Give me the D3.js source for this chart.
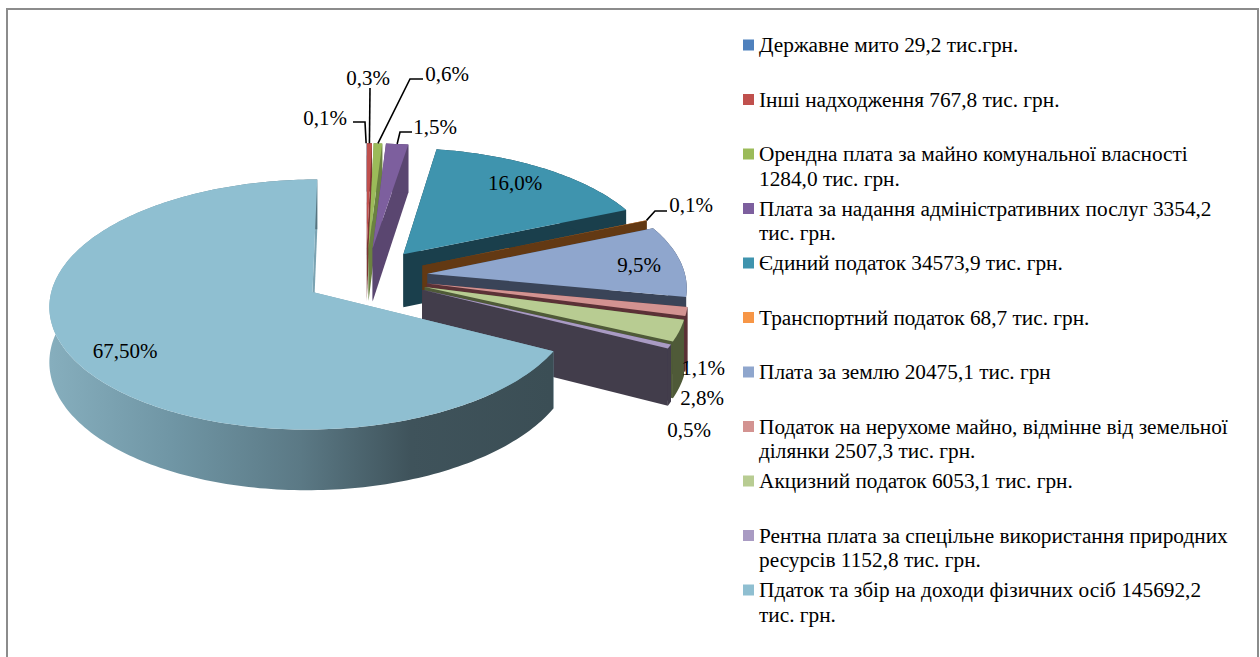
<!DOCTYPE html>
<html>
<head>
<meta charset="utf-8">
<script src="https://cdn.jsdelivr.net/npm/d3@7"></script>
<style>
    html, body { margin: 0; padding: 0; background: #fff; overflow: hidden; }
    text { font-family: "Liberation Serif", serif; fill: #000; }
</style>
</head>
<body>
<div id="chart"></div>
<script>
// values in thousands of hryvnias, as printed in the legend
const values = [29.2, 767.8, 1284.0, 3354.2, 34573.9, 68.7, 20475.1, 2507.3, 6053.1, 1152.8, 145692.2];

const legendLines = [
    ["Державне мито 29,2 тис.грн."],
    ["Інші надходження 767,8 тис. грн."],
    ["Орендна плата за майно комунальної власності", "1284,0 тис. грн."],
    ["Плата за надання адміністративних послуг 3354,2", "тис. грн."],
    ["Єдиний податок 34573,9 тис. грн."],
    ["Транспортний податок 68,7 тис. грн."],
    ["Плата за землю 20475,1 тис. грн"],
    ["Податок на нерухоме майно, відмінне від земельної", "ділянки 2507,3 тис. грн."],
    ["Акцизний податок 6053,1 тис. грн."],
    ["Рентна плата за спецільне використання природних", "ресурсів 1152,8 тис. грн."],
    ["Пдаток та збір на доходи фізичних осіб 145692,2", "тис. грн."]
];

const percentLabels = ["0,1%", "0,3%", "0,6%", "1,5%", "16,0%", "0,1%", "9,5%", "1,1%", "2,8%", "0,5%", "67,50%"];

const topColors = ["#4f81bd", "#c0504d", "#9bbb59", "#7d5f9e", "#3f94ae", "#f79646", "#8fa6cd", "#d39391", "#b8cc92", "#a99bc3", "#8fbfd1"];
const wallColors = ["#3a5a85", "#7e3532", "#6b8240", "#5a4670", "#1a3f4c", "#633913", "#3a4458", "#5b3136", "#4f5a38", "#423d4b", "#7ba3b2"];

const width = 1260, height = 657;

// 3d pie set up
const pieCenter = {x: 366, y: 276.8};
const radius = 258, explode = 62, depth = 54;
const tilt = 0.468, persp = 0.00038;

// label placement: [label x, label y] and the leader elbow, by slice index
const labelLayout = {
    0: {x: 325, y: 118, leader: [[353, 122], [365, 122]]},
    1: {x: 368, y: 78, leader: [[370, 88]]},
    2: {x: 447, y: 74, leader: [[423, 79], [410, 79]]},
    3: {x: 435, y: 127, leader: [[412, 132], [400, 132]]},
    4: {x: 515, y: 183},
    5: {x: 691, y: 205, leader: [[667, 211], [655, 211]]},
    6: {x: 639, y: 265},
    7: {x: 703, y: 368},
    8: {x: 702, y: 398},
    9: {x: 689, y: 430},
    10: {x: 125, y: 351}
};

const svg = d3.select("#chart")
    .append("svg")
    .attr("width", width)
    .attr("height", height)
    .attr("viewBox", `0 0 ${width} ${height}`);

// frame runs off the bottom of the picture
svg.append("rect")
    .attr("x", 7)
    .attr("y", 9)
    .attr("width", 1251)
    .attr("height", 720)
    .attr("fill", "#fff")
    .attr("stroke", "#8c8c8c")
    .attr("stroke-width", 2);

const grad = svg.append("defs").append("linearGradient")
    .attr("id", "mainWall")
    .attr("gradientUnits", "userSpaceOnUse")
    .attr("x1", 50).attr("x2", 551).attr("y1", 0).attr("y2", 0);
grad.selectAll("stop")
    .data([[0, "#86aebd"], [0.25, "#6f95a4"], [0.5, "#5b7985"], [0.72, "#3f535b"], [1, "#3b4e55"]])
    .enter()
    .append("stop")
    .attr("offset", d => d[0])
    .attr("stop-color", d => d[1]);

const arcs = d3.pie().sort(null).startAngle(0).endAngle(2 * Math.PI)(values);

// ground point (right, toward viewer) -> screen, z is the drop below the top face
function project(px, pv, z) {
    const s = 1 / (1 - persp * pv);
    return [pieCenter.x + px * s, pieCenter.y + (tilt * pv + z) * s];
}

function apex(d) {
    const mid = (d.startAngle + d.endAngle) / 2;
    return [explode * Math.sin(mid), -explode * Math.cos(mid)];
}

function rim(d, angle, r) {
    const a = apex(d);
    return [a[0] + r * Math.sin(angle), a[1] - r * Math.cos(angle)];
}

function rimAngles(d) {
    const n = Math.max(2, Math.ceil((d.endAngle - d.startAngle) / 0.02));
    return d3.range(n + 1).map(i => d.startAngle + (d.endAngle - d.startAngle) * i / n);
}

const line = d3.line();

function topPath(d) {
    const a = apex(d);
    const pts = [project(a[0], a[1], 0)];
    rimAngles(d).forEach(t => {
        const p = rim(d, t, radius);
        pts.push(project(p[0], p[1], 0));
    });
    return line(pts) + "Z";
}

function outerWall(d) {
    const angles = rimAngles(d);
    const upper = angles.map(t => {
        const p = rim(d, t, radius);
        return project(p[0], p[1], 0);
    });
    const lower = angles.slice().reverse().map(t => {
        const p = rim(d, t, radius);
        return project(p[0], p[1], depth);
    });
    return line(upper.concat(lower)) + "Z";
}

function radialWall(d, angle) {
    const a = apex(d), p = rim(d, angle, radius);
    return line([
        project(a[0], a[1], 0),
        project(p[0], p[1], 0),
        project(p[0], p[1], depth),
        project(a[0], a[1], depth)
    ]) + "Z";
}

// painted back to front, data order already is back to front here
const slices = svg.selectAll("g.slice")
    .data(arcs)
    .enter()
    .append("g")
    .attr("class", "slice");

slices.append("path")
    .attr("d", d => radialWall(d, d.startAngle))
    .attr("fill", d => wallColors[d.index]);
slices.append("path")
    .attr("d", d => radialWall(d, d.endAngle))
    .attr("fill", d => wallColors[d.index]);
slices.append("path")
    .attr("d", outerWall)
    .attr("fill", d => d.index === 10 ? "url(#mainWall)" : wallColors[d.index]);
slices.append("path")
    .attr("d", topPath)
    .attr("fill", d => topColors[d.index]);

// leader lines start on the rim of their slice
svg.selectAll("path.leader")
    .data(arcs.filter(d => labelLayout[d.index].leader))
    .enter()
    .append("path")
    .attr("class", "leader")
    .attr("fill", "none")
    .attr("stroke", "#000")
    .attr("stroke-width", 1.6)
    .attr("d", d => {
        const mid = (d.startAngle + d.endAngle) / 2;
        const p = rim(d, mid, radius);
        return line(labelLayout[d.index].leader.concat([project(p[0], p[1], 0)]));
    });

svg.selectAll("text.pct")
    .data(arcs)
    .enter()
    .append("text")
    .attr("class", "pct")
    .attr("x", d => labelLayout[d.index].x)
    .attr("y", d => labelLayout[d.index].y)
    .attr("dy", "0.35em")
    .attr("text-anchor", "middle")
    .style("font-size", "21px")
    .text(d => percentLabels[d.index]);

// legend
const legendY = d3.scalePoint()
    .domain(d3.range(legendLines.length))
    .range([45, 590]);

const legend = svg.selectAll("g.legend")
    .data(legendLines)
    .enter()
    .append("g")
    .attr("class", "legend")
    .attr("transform", (d, i) => `translate(743,${legendY(i)})`);

legend.append("rect")
    .attr("y", -5.5)
    .attr("width", 11)
    .attr("height", 11)
    .attr("fill", (d, i) => topColors[i]);

legend.selectAll("text")
    .data(d => d)
    .enter()
    .append("text")
    .attr("x", 16)
    .attr("y", (d, i) => i * 24.5)
    .attr("dy", "0.35em")
    .style("font-size", "21.3px")
    .text(d => d);
</script>
</body>
</html>
